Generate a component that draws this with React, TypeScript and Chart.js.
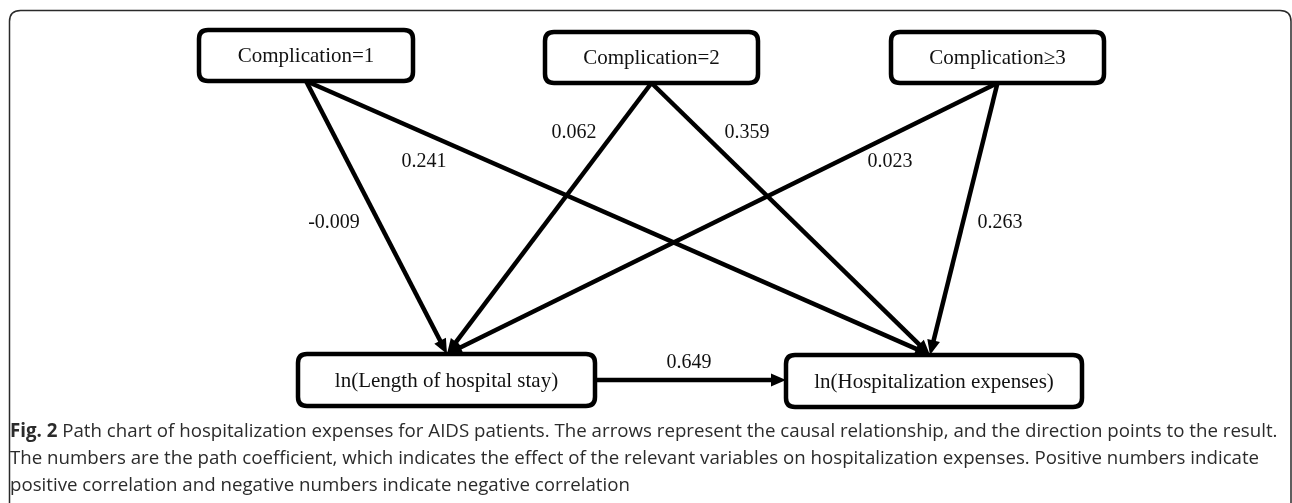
import React, { useEffect, useRef } from "react";
import { Chart, registerables } from "chart.js";

Chart.register(...registerables);

// ---------- DATA ----------
const nodeLabels = [
  "Complication=1",
  "Complication=2",
  "Complication\u22653",
  "ln(Length of hospital stay)",
  "ln(Hospitalization expenses)",
];
const edgeFrom = [0, 0, 1, 1, 2, 2, 3];
const edgeTo = [3, 4, 3, 4, 3, 4, 4];
const pathCoefficients = [-0.009, 0.241, 0.062, 0.359, 0.023, 0.263, 0.649];

const captionBold = "Fig. 2";
const captionLines = [
  " Path chart of hospitalization expenses for AIDS patients. The arrows represent the causal relationship, and the direction points to the result.",
  "The numbers are the path coefficient, which indicates the effect of the relevant variables on hospitalization expenses. Positive numbers indicate",
  "positive correlation and negative numbers indicate negative correlation",
];

// ---------- LAYOUT (pixel space of the 1292x503 canvas) ----------
const W = 1292;
const H = 503;
const nodeBoxes = [
  { cx: 306, cy: 55.5, w: 214, h: 51 },
  { cx: 651.5, cy: 57.5, w: 213, h: 51 },
  { cx: 997.5, cy: 57.5, w: 213, h: 51 },
  { cx: 446.5, cy: 380, w: 297, h: 52 },
  { cx: 934, cy: 381, w: 296, h: 52 },
];
const targetTipX = { 3: 447, 4: 930 };
const labelPos = [
  [334, 223],
  [424, 162],
  [574, 133],
  [747, 133],
  [890, 162],
  [1000, 223],
  [689, 363],
];
const ARROW_LEN = 15;
const ARROW_HALF = 6.5;
const LINE_W = 4.5;

function edgeEnds(i: number) {
  const f = nodeBoxes[edgeFrom[i]];
  const t = nodeBoxes[edgeTo[i]];
  if (edgeFrom[i] >= 3) {
    return {
      x0: f.cx + f.w / 2,
      y0: f.cy,
      x1: t.cx - t.w / 2,
      y1: f.cy,
    };
  }
  return {
    x0: f.cx,
    y0: f.cy + f.h / 2,
    x1: (targetTipX as any)[edgeTo[i]],
    y1: t.cy - t.h / 2,
  };
}

function roundRect(ctx: CanvasRenderingContext2D, x: number, y: number, w: number, h: number, r: number) {
  ctx.beginPath();
  ctx.moveTo(x + r, y);
  ctx.lineTo(x + w - r, y);
  ctx.quadraticCurveTo(x + w, y, x + w, y + r);
  ctx.lineTo(x + w, y + h - r);
  ctx.quadraticCurveTo(x + w, y + h, x + w - r, y + h);
  ctx.lineTo(x + r, y + h);
  ctx.quadraticCurveTo(x, y + h, x, y + h - r);
  ctx.lineTo(x, y + r);
  ctx.quadraticCurveTo(x, y, x + r, y);
  ctx.closePath();
}

const framePlugin = {
  id: "frame",
  beforeDraw(chart: any) {
    const ctx = chart.ctx as CanvasRenderingContext2D;
    ctx.save();
    ctx.fillStyle = "#ffffff";
    ctx.fillRect(0, 0, W, H);
    ctx.strokeStyle = "#2a2a2a";
    ctx.lineWidth = 1.5;
    roundRect(ctx, 9.5, 10.5, 1281.5, 600, 11);
    ctx.stroke();
    ctx.restore();
  },
};

const diagramPlugin = {
  id: "diagram",
  afterDatasetsDraw(chart: any) {
    const ctx = chart.ctx as CanvasRenderingContext2D;
    const xs = chart.scales.x;
    const ys = chart.scales.y;
    ctx.save();
    ctx.fillStyle = "#000";
    for (let i = 0; i < edgeFrom.length; i++) {
      const e = edgeEnds(i);
      const x0 = xs.getPixelForValue(e.x0);
      const y0 = ys.getPixelForValue(e.y0);
      const x1 = xs.getPixelForValue(e.x1);
      const y1 = ys.getPixelForValue(e.y1);
      const a = Math.atan2(y1 - y0, x1 - x0);
      const bx = x1 - ARROW_LEN * Math.cos(a);
      const by = y1 - ARROW_LEN * Math.sin(a);
      ctx.beginPath();
      ctx.moveTo(x1, y1);
      ctx.lineTo(bx + ARROW_HALF * Math.sin(a), by - ARROW_HALF * Math.cos(a));
      ctx.lineTo(bx - ARROW_HALF * Math.sin(a), by + ARROW_HALF * Math.cos(a));
      ctx.closePath();
      ctx.fill();
    }
    nodeBoxes.forEach((b, i) => {
      const x = xs.getPixelForValue(b.cx - b.w / 2);
      const y = ys.getPixelForValue(b.cy - b.h / 2);
      roundRect(ctx, x, y, b.w, b.h, 9);
      ctx.fillStyle = "#ffffff";
      ctx.fill();
      ctx.lineWidth = LINE_W;
      ctx.strokeStyle = "#000";
      ctx.stroke();
      ctx.fillStyle = "#111";
      ctx.font = '21px "Liberation Serif", "Times New Roman", serif';
      ctx.textAlign = "center";
      ctx.textBaseline = "middle";
      ctx.fillText(nodeLabels[i], xs.getPixelForValue(b.cx), ys.getPixelForValue(b.cy) + 1);
    });
    ctx.font = '20px "Liberation Serif", "Times New Roman", serif';
    ctx.fillStyle = "#111";
    ctx.textAlign = "center";
    ctx.textBaseline = "middle";
    pathCoefficients.forEach((c, i) => {
      ctx.fillText(c.toFixed(3), xs.getPixelForValue(labelPos[i][0]), ys.getPixelForValue(labelPos[i][1]));
    });
    ctx.restore();
  },
  afterDraw(chart: any) {
    const ctx = chart.ctx as CanvasRenderingContext2D;
    ctx.save();
    const family = '"Open Sans", "Noto Sans", sans-serif';
    const targetWidth = 1268;
    let size = 20;
    ctx.font = `bold ${size}px ${family}`;
    const wb = ctx.measureText(captionBold).width;
    ctx.font = `${size}px ${family}`;
    const wr = ctx.measureText(captionLines[0]).width;
    size = (size * targetWidth) / (wb + wr);
    ctx.textBaseline = "middle";
    ctx.textAlign = "left";
    ctx.fillStyle = "#2b2b2b";
    const x0 = 10;
    const ys = [432, 459, 486];
    ctx.font = `bold ${size}px ${family}`;
    ctx.fillText(captionBold, x0, ys[0]);
    const bw = ctx.measureText(captionBold).width;
    ctx.font = `${size}px ${family}`;
    ctx.fillText(captionLines[0], x0 + bw, ys[0]);
    ctx.fillText(captionLines[1], x0, ys[1]);
    ctx.fillText(captionLines[2], x0, ys[2]);
    ctx.restore();
  },
};

export default function App() {
  const canvasRef = useRef<HTMLCanvasElement | null>(null);

  useEffect(() => {
    if (!canvasRef.current) return;
    const datasets = edgeFrom.map((_, i) => {
      const e = edgeEnds(i);
      const len = Math.hypot(e.x1 - e.x0, e.y1 - e.y0);
      const k = (len - ARROW_LEN + 3) / len;
      return {
        type: "line" as const,
        label: `${nodeLabels[edgeFrom[i]]} \u2192 ${nodeLabels[edgeTo[i]]}`,
        data: [
          { x: e.x0, y: e.y0 },
          { x: e.x0 + (e.x1 - e.x0) * k, y: e.y0 + (e.y1 - e.y0) * k },
        ],
        borderColor: "#000",
        borderWidth: LINE_W,
        pointRadius: 0,
        showLine: true,
        fill: false,
        tension: 0,
        clip: false as any,
      };
    });
    const chart = new Chart(canvasRef.current, {
      type: "scatter",
      data: { datasets: datasets as any },
      options: {
        animation: false,
        responsive: false,
        devicePixelRatio: 1,
        layout: { padding: 0 },
        plugins: { legend: { display: false }, tooltip: { enabled: false } },
        events: [],
        scales: {
          x: { type: "linear", min: 0, max: W, display: false },
          y: { type: "linear", min: 0, max: H, reverse: true, display: false },
        },
      },
      plugins: [framePlugin, diagramPlugin],
    });
    return () => chart.destroy();
  }, []);

  return (
    <div style={{ position: "fixed", left: 0, top: 0, width: W, height: H, background: "#fff" }}>
      <canvas ref={canvasRef} width={W} height={H} style={{ display: "block", width: W, height: H }} />
    </div>
  );
}
